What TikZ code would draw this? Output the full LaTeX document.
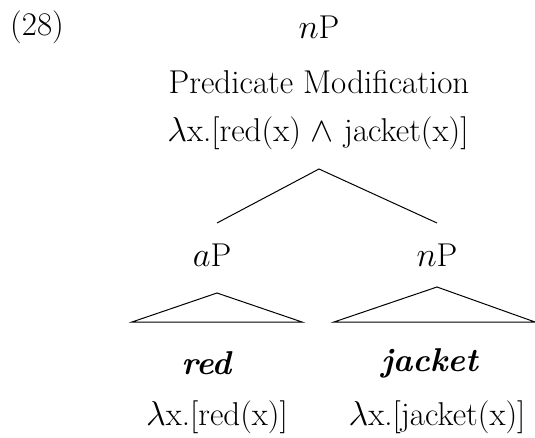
\documentclass[tikz,border=0pt]{standalone}
\usepackage{amssymb}
\tikzset{
  lbl/.style={inner sep=0pt, font=\fontsize{16.5}{19}\selectfont},
  branch/.style={draw=black, line width=0.5pt},
}
\begin{document}
\begin{tikzpicture}[x=0.5pt, y=-0.5pt]
        \useasboundingbox (0,0) rectangle (535,438);
        %example number and root
        \node[lbl] (num) at (37,27) {(28)};
        \node[lbl] (root) at (319,27) {$n$P};
        \node[lbl] (rule) at (319,82) {Predicate Modification};
        \node[lbl] (sem) at (318,133) {$\lambda$x.[red(x) $\wedge$ jacket(x)]};
        %branches
        \coordinate (top) at (319,169);
        \coordinate (lend) at (217,223);
        \coordinate (rend) at (437,223);
        \draw[branch] (lend) -- (top) -- (rend);
        %daughters
        \node[lbl] (aP) at (212,255) {$a$P};
        \node[lbl] (nP) at (437,255) {$n$P};
        %triangle under aP
        \coordinate (atop) at (217,293);
        \coordinate (aleft) at (132,322);
        \coordinate (aright) at (302,322);
        \draw[branch] (aleft) -- (atop) -- (aright) -- cycle;
        %triangle under nP
        \coordinate (ntop) at (437,287);
        \coordinate (nleft) at (334,322);
        \coordinate (nright) at (535,322);
        \draw[branch] (nleft) -- (ntop) -- (nright) -- cycle;
        %leaves
        \node[lbl] (red) at (207,363) {\textbf{\textit{red}}};
        \node[lbl] (jacket) at (430,363) {\textbf{\textit{jacket}}};
        \node[lbl] (redsem) at (217,417) {$\lambda$x.[red(x)]};
        \node[lbl] (jacketsem) at (437,417) {$\lambda$x.[jacket(x)]};
\end{tikzpicture}
\end{document}
